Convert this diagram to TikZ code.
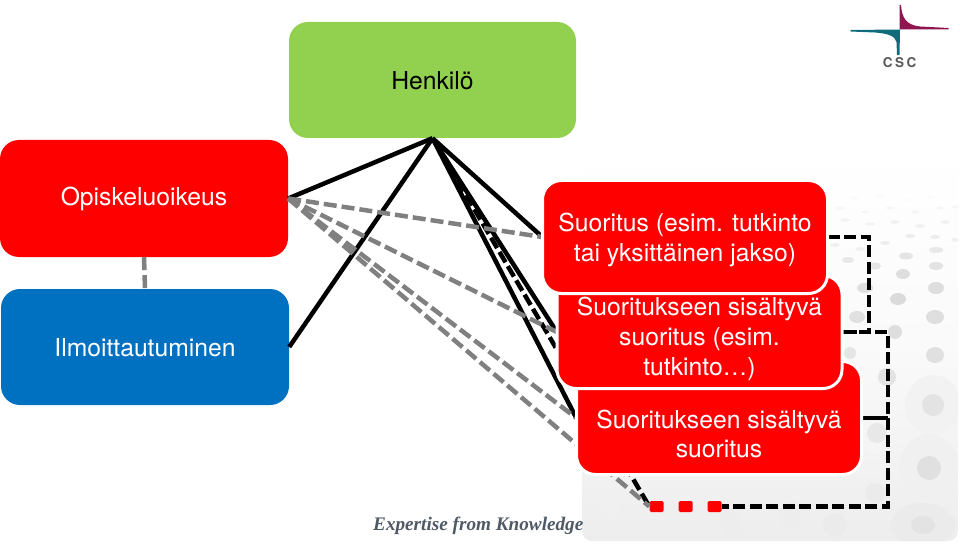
\documentclass[tikz,border=0pt]{standalone}
\usepackage{fontspec}
\setmainfont{TeX Gyre Heros}
\newfontfamily\serifbrand{Liberation Serif}
\usetikzlibrary{calc}
\definecolor{boxred}{HTML}{FF0000}
\definecolor{boxgreen}{HTML}{92D050}
\definecolor{boxblue}{HTML}{0070C0}
\definecolor{csct}{HTML}{0F6B7A}
\definecolor{cscm}{HTML}{8E1550}
\definecolor{brandgray}{HTML}{4F5A66}
\tikzset{
  x=1pt,y=-1pt,
  basebox/.style={rounded corners=19pt,align=center,inner sep=0pt,font=\fontsize{24.7}{30}\selectfont},
  plainbox/.style={basebox,fill=#1},
  ringbox/.style={basebox,fill=boxred,draw=white,line width=3pt,minimum width=285pt,minimum height=113pt},
  anchorbox/.style={minimum width=285pt,minimum height=113pt,inner sep=0pt},
  whitetext/.style={text=white,align=center,inner sep=0pt,font=\fontsize{24.7}{30}\selectfont},
  solidline/.style={black,line width=4.5pt},
  grayline/.style={black!50,line width=4.5pt,dash pattern=on 13pt off 5pt},
  blackdash/.style={black,line width=4.5pt,dash pattern=on 12pt off 4.5pt},
  dotbox/.style={fill=boxred,rounded corners=1.5pt,minimum width=14pt,minimum height=11pt,inner sep=0pt},
}
\begin{document}
\begin{tikzpicture}
\useasboundingbox (0,0) rectangle (960,545);
\fill[white] (0,0) rectangle (960,545);
% background
\begin{scope}
\clip[rounded corners=10pt] (582,150) rectangle (958,541);
\shade[top color=white,bottom color=black!7,middle color=black!2] (582,150) rectangle (958,541);
\foreach \x/\y/\rx/\ry/\lv in {933/405/28/30/5,929/468/30/34/6,923/525/32/22/8,877/433/16/22/4}{
  \fill[black!\lv] (\x,\y) ellipse ({\rx} and {\ry});
}
\foreach \x/\y/\rx/\ry/\lv in {
 848/260/6/3/9,875/266/6/3.5/10,906/256/7/3.5/10,936/250/7/3/9,936/266/7/4/11,
 903/274/7/5/13,936/288/8/6/13,898/299/8/6/14,935/317/9/7/13,865/288/8/5/12,857/317/8/6/12,895/332/7/7/13,
 935/355/9/8/12,887/377/9/9/11,850/353/6/6/10,933/405/11/11/11,929/468/12/12/12,877/433/10/10/9,923/525/12/9/11,875/493/10/10/8,
 835/245/5/2/6,860/249/5/2/6,885/243/5/2/7,910/236/5/2/7,935/237/5/2/7,955/240/4/2/6,
 845/220/5/1.7/5,870/224/5/1.7/5,895/222/5/1.7/6,920/226/5/1.7/6,945/222/5/1.7/6,
 840/208/4/1.4/3,865/212/4/1.4/4,890/208/4/1.4/4,915/212/4/1.4/4,940/208/4/1.4/4,955/207/4/1.4/3,
 855/198/4/1.2/2,880/196/4/1.2/2,905/200/4/1.2/2,930/197/4/1.2/2,
 730/522/10/14/7,790/515/10/14/7,610/505/10/14/6,835/525/12/12/8}{
  \fill[black!\lv] (\x,\y) ellipse ({\rx} and {\ry});
}
\end{scope}
\node[font=\serifbrand\bfseries\itshape\fontsize{19.2}{20}\selectfont,text=brandgray,anchor=west,inner sep=0pt] (brand) at (373,526) {Expertise from Knowledge};
% logo
\fill[csct] (850.5,30) -- (900,29.5) -- (900,30) -- (899.5,55) -- (897,55) -- (896.5,42) .. controls (895,36) and (888,33.5) .. (875,32.5) -- (850.5,31.5) -- cycle;
\fill[cscm] (899.7,5) -- (901,5) .. controls (902,18) and (906,25) .. (920,26.5) -- (948.5,28) -- (948.5,29.5) -- (899.7,29.5) -- cycle;
\node[font=\bfseries\fontsize{13.5}{12}\selectfont,text=black!65,inner sep=0pt] (csc) at (899.5,63) {C\hspace{2.5pt}S\hspace{2.5pt}C};
% nodes
\path node[plainbox=boxgreen,minimum width=287pt,minimum height=116pt,text=black] (henk) at (432.5,80) {}
      node[plainbox=boxred,minimum width=288pt,minimum height=117pt] (opis) at (144,198.5) {}
      node[plainbox=boxblue,minimum width=288pt,minimum height=116pt] (ilm) at (145,347) {};
\node[whitetext,text=black] (henkt) at (432.5,81) {Henkilö};
\node[whitetext] (opist) at (144,199) {Opiskeluoikeus};
\node[whitetext] (ilmt) at (145,347.5) {Ilmoittautuminen};
\coordinate (busa) at (869,237);
\coordinate (busb) at (888,330);
\path node[anchorbox] (sthree) at (719,418) {}
      node[anchorbox] (stwo) at (699.5,332) {}
      node[anchorbox] (sone) at (685,237) {}
      node[dotbox] (da) at (656.5,506.5) {}
      node[dotbox] (db) at (685.5,506.5) {}
      node[dotbox] (dc) at (714.5,506.5) {};
% connectors
\draw[grayline] (opis.south) -- (ilm.north);
\draw[solidline] (henk.south) -- (opis.east);
\draw[solidline] (henk.south) -- (ilm.east);
\draw[solidline] (henk.south) -- (sone.west);
\draw[solidline] (henk.south) -- (stwo.west);
\draw[solidline] (henk.south) -- (sthree.west);
\draw[blackdash] (henk.south) -- (da.west);
\draw[grayline] (opis.east) -- (sone.west);
\draw[grayline] (opis.east) -- (stwo.west);
\draw[grayline] (opis.east) -- (sthree.west);
\draw[grayline] (opis.east) -- (da.west);
\draw[blackdash] (sone.east) -- (sone.east -| busa) -- (stwo.east -| busa) -- (stwo.east);
\draw[blackdash] (stwo.east) -- (stwo.east -| busb) -- (dc.east -| busb) -- (dc.east);
\draw[solidline] (sthree.east) -- (sthree.east -| busb);
% boxes on top
\node[ringbox] (sthreeb) at (sthree) {};
\node[whitetext,font=\fontsize{24.7}{29}\selectfont] (sthreet) at (719,433.5) {Suoritukseen sisältyvä\\suoritus};
\node[ringbox] (stwob) at (stwo) {};
\node[whitetext] (stwot) at (699.5,339) {Suoritukseen sisältyvä\\suoritus (esim.\\tutkinto…)};
\node[ringbox] (soneb) at (sone) {};
\node[whitetext] (sonet) at (685,240) {Suoritus (esim. tutkinto\\tai yksittäinen jakso)};
\end{tikzpicture}
\end{document}
